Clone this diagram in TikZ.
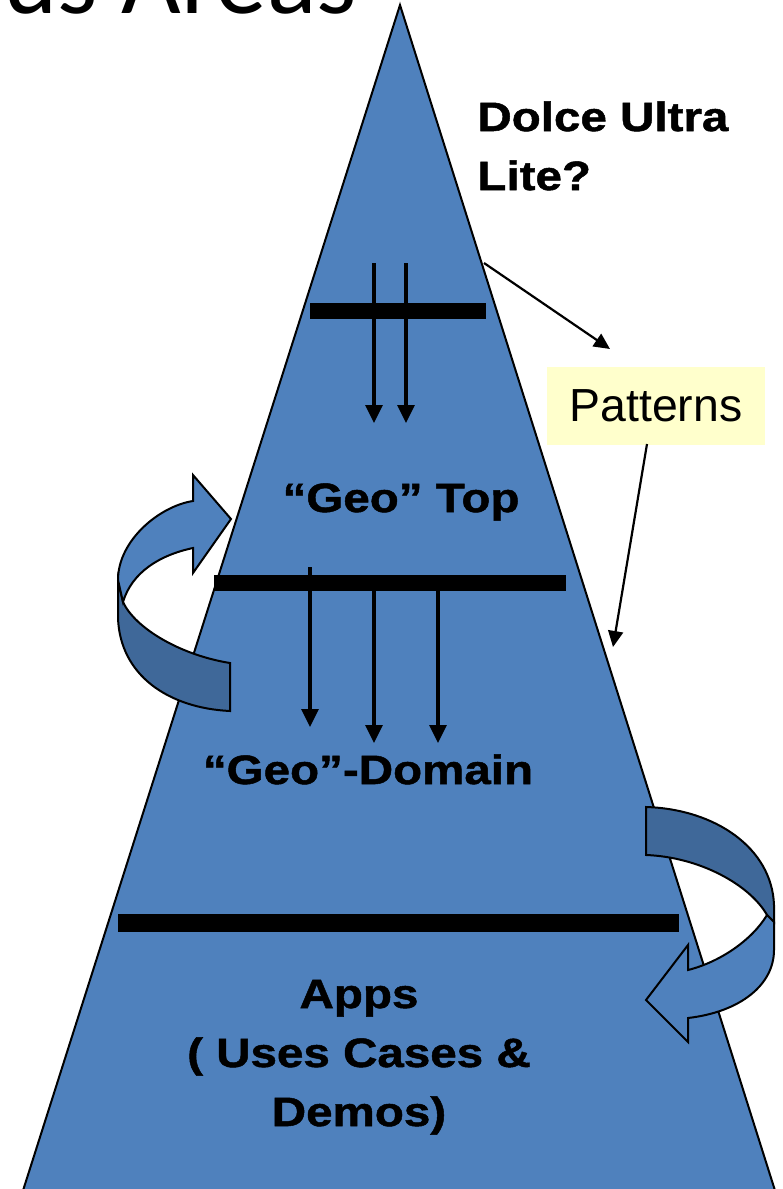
\documentclass[tikz,border=0pt]{standalone}
\usepackage{fontspec}
\newfontfamily\lsans[FakeStretch=1.16,FakeBold=1.2]{Liberation Sans}
\newfontfamily\lsreg{Liberation Sans}
\newfontfamily\carlito{Carlito}
\usetikzlibrary{arrows.meta}
\definecolor{pyrblue}{HTML}{4F81BD}
\definecolor{banddark}{HTML}{3F6899}
\definecolor{noteyellow}{HTML}{FFFFCC}
\begin{document}
\begin{tikzpicture}[x=0.5pt,y=-0.5pt,
  outline/.style={draw=black,line width=1pt,line join=miter},
  barline/.style={fill=black},
  vecarrow/.style={line width=1.6pt,-{Triangle[length=9pt,width=8.5pt]}},
  thinarrow/.style={line width=1.1pt,-{Triangle[length=8pt,width=7.5pt]}},
  lbl/.style={font=\lsans\bfseries\fontsize{20.5}{29.5}\selectfont,inner sep=0pt},
  patbox/.style={fill=noteyellow,minimum width=109pt,minimum height=39pt,inner sep=0pt,
    font=\lsreg\fontsize{23.2}{28}\selectfont}]
\useasboundingbox (0,0) rectangle (782,1189);
\clip (0,0) rectangle (782,1189);
% title
\node[font=\carlito\fontsize{51.5}{60}\selectfont,anchor=base east,inner sep=0pt] (title) at (357,13) {us Areas};
% pyramid
\fill[pyrblue] (400,5) -- (20,1200) -- (778,1200) -- cycle;
\draw[outline] (20,1200) -- (400,5) -- (778,1200);
% left curved arrow
\draw[outline,fill=banddark] (118,580) -- (118,618) .. controls (120,675) and (168,708) .. (230,711)
  -- (230,663) .. controls (180,655) and (135,628) .. (123,602) -- cycle;
\draw[outline,fill=pyrblue] (193,501) .. controls (160,506) and (118,540) .. (118,580)
  -- (123,602) .. controls (132,572) and (160,555) .. (193,548)
  -- (193,573) -- (231,519) -- (193,475) -- cycle;
% right curved arrow
\draw[outline,fill=banddark] (646,807) .. controls (715,809) and (772,848) .. (774,905)
  -- (774,922) -- (767,915) .. controls (750,885) and (700,857) .. (646,855) -- cycle;
\draw[outline,fill=pyrblue] (774,922) -- (774,950) .. controls (774,985) and (740,1012) .. (688,1018)
  -- (688,1042) -- (646,1000) -- (688,945) -- (688,970)
  .. controls (720,962) and (752,940) .. (767,915) -- cycle;
% bars
\fill[barline] (310,303) rectangle (486,319);
\fill[barline] (214,575) rectangle (566,591);
\fill[barline] (118,914) rectangle (679,932);
% vertical arrows
\coordinate (a1s) at (374,263); \coordinate (a1e) at (374,423);
\coordinate (a2s) at (406,263); \coordinate (a2e) at (406,423);
\coordinate (b1s) at (310,567); \coordinate (b1e) at (310,727);
\coordinate (b2s) at (374,583); \coordinate (b2e) at (374,743);
\coordinate (b3s) at (438,583); \coordinate (b3e) at (438,743);
\draw[vecarrow] (a1s) -- (a1e);
\draw[vecarrow] (a2s) -- (a2e);
\draw[vecarrow] (b1s) -- (b1e);
\draw[vecarrow] (b2s) -- (b2e);
\draw[vecarrow] (b3s) -- (b3e);
% labels
\node[lbl,anchor=base west,align=left] (dolce) at (477,190) {Dolce Ultra\\Lite?};
\node[lbl,anchor=base] (geotop) at (401,512) {“Geo” Top};
\node[lbl,anchor=base] (geodom) at (368,784) {“Geo”-Domain};
\node[lbl,anchor=base,align=center] (apps) at (359,1126) {Apps\\( Uses Cases \&\\Demos)};
% patterns
\node[patbox] (pat) at (656,406) {Patterns};
\coordinate (p1s) at (484,263); \coordinate (p1e) at (610,349);
\coordinate (p2s) at (647,444); \coordinate (p2e) at (613,647);
\draw[thinarrow] (p1s) -- (p1e);
\draw[thinarrow] (p2s) -- (p2e);
\end{tikzpicture}
\end{document}
